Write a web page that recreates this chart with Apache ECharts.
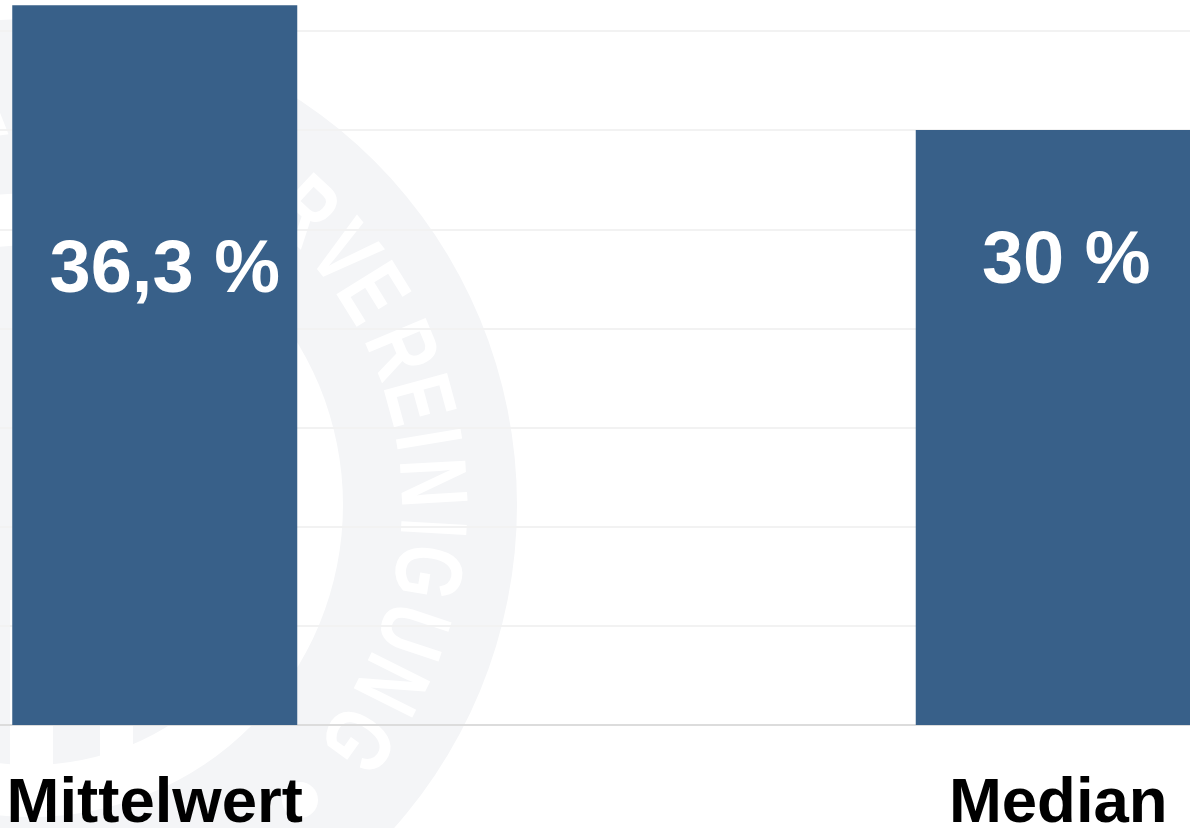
<!DOCTYPE html>
<html>
<head>
<meta charset="utf-8">
<title>Mittelwert und Median</title>
<script src="https://cdn.jsdelivr.net/npm/echarts@6/dist/echarts.min.js"></script>
<style>
  html, body { margin: 0; padding: 0; background: #fff; overflow: hidden; }
  #chart { width: 1190px; height: 828px; }
</style>
</head>
<body>
<div id="chart"></div>
<script>
// Daten
var categories = ['Mittelwert', 'Median'];
var values = [36.3, 30];
var valueLabels = ['36,3 %', '30 %'];
var tickStep = 5;
var axisMax = 40;

// Wasserzeichen: Buchstaben auf dem Ring und ihr Winkel (Grad, im Uhrzeigersinn)
var sealLetters = ['A', 'R', 'V', 'E', 'R', 'E', 'I', 'N', 'I', 'G', 'U', 'N', 'G'];
var sealAngles = [-97, -47, -38.8, -31.8, -22.7, -15.2, -9.4, -3.2, 3.3, 9.6, 18.3, 26.5, 35.7];

var FONT = '"Liberation Sans", Arial, sans-serif';
var BAR_COLOR = '#386089';
var SEAL_COLOR = '#f4f5f7';
var SEAL_X = 31, SEAL_Y = 505;

var sealParts = [
  { type: 'ring', z: -10, silent: true,
    shape: { cx: SEAL_X, cy: SEAL_Y, r: 486, r0: 312 },
    style: { fill: SEAL_COLOR } },
  { type: 'circle', z: -10, silent: true,
    shape: { cx: SEAL_X, cy: SEAL_Y, r: 260 },
    style: { fill: SEAL_COLOR } },
  // Luecken zwischen den Saeulen im Siegel
  { type: 'rect', z: -9, silent: true,
    shape: { x: 10, y: 600, width: 43, height: 200 },
    style: { fill: '#fff' } },
  { type: 'rect', z: -9, silent: true,
    shape: { x: 100, y: 600, width: 33, height: 200 },
    style: { fill: '#fff' } },
  { type: 'circle', z: -9, silent: true,
    shape: { cx: 300, cy: 800, r: 18 },
    style: { fill: '#fff' } }
];

sealLetters.forEach(function (letter, i) {
  var rad = sealAngles[i] * Math.PI / 180;
  sealParts.push({
    type: 'text', z: -9, silent: true,
    x: SEAL_X + 397 * Math.cos(rad),
    y: SEAL_Y + 397 * Math.sin(rad),
    rotation: -(sealAngles[i] + 90) * Math.PI / 180,
    scaleX: 0.72,
    style: {
      text: letter, fill: '#fff', font: 'bold 95px ' + FONT,
      align: 'center', verticalAlign: 'middle'
    }
  });
});

var labelTops = [229, 95];
var labelShift = [10, 8];

var barData = values.map(function (v, i) {
  return {
    value: v,
    label: {
      show: true,
      formatter: valueLabels[i],
      position: 'insideTop',
      distance: labelTops[i],
      offset: [labelShift[i], 0]
    }
  };
});

var myChart = echarts.init(document.getElementById('chart'), null, { renderer: 'canvas' });

var option = {
  animation: false,
  backgroundColor: '#fff',
  graphic: { elements: sealParts },
  grid: { left: -297, width: 1807, top: -68.2, height: 793.2, containLabel: false, outerBoundsMode: 'none' },
  xAxis: {
    type: 'category',
    data: categories,
    axisTick: { show: false },
    axisLine: { lineStyle: { color: '#dcdcdc', width: 2 } },
    axisLabel: {
      interval: 0, color: '#000', fontFamily: FONT, fontWeight: 'bold',
      fontSize: 63.5, margin: 47
    }
  },
  yAxis: {
    type: 'value',
    min: 0,
    max: axisMax,
    interval: tickStep,
    axisLine: { show: false },
    axisTick: { show: false },
    axisLabel: { show: false },
    splitLine: { lineStyle: { color: '#f2f2f2', width: 2 } }
  },
  series: [{
    type: 'bar',
    data: barData,
    barWidth: 285,
    itemStyle: { color: BAR_COLOR },
    label: { color: '#fff', fontFamily: FONT, fontWeight: 'bold', fontSize: 74 }
  }]
};

myChart.setOption(option);
</script>
</body>
</html>
